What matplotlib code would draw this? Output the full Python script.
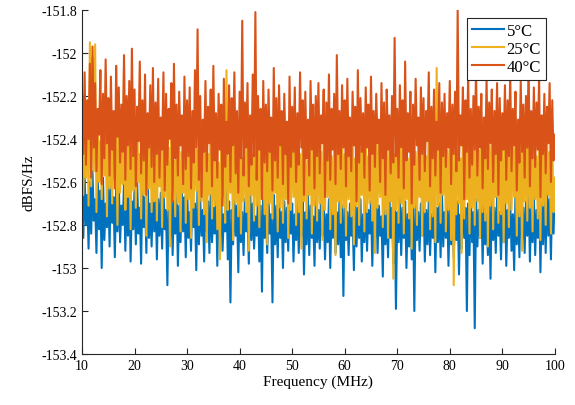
import numpy as np
import matplotlib.pyplot as plt

plt.rcParams['font.family'] = ['Liberation Serif', 'DejaVu Serif']

# frequency grid, 10-100 MHz in 0.25 MHz steps
freq = np.linspace(10, 100, 361)

# 5 degC
psd_5c = [
    -152.62, -152.86, -152.57, -152.80, -152.66, -152.91, -152.60, -152.84, -152.55, -152.78, -152.68, -152.93, -152.59, -152.82, -152.64, -153.00, -152.58, -152.87, -152.70, -152.81,
    -152.61, -152.90, -152.56, -152.79, -152.67, -152.95, -152.63, -152.83, -152.59, -152.88, -152.71, -152.80, -152.60, -152.92, -152.65, -152.85, -152.58, -152.97, -152.69, -152.82,
    -152.63, -152.89, -152.60, -152.84, -152.72, -152.98, -152.62, -152.81, -152.67, -152.93, -152.58, -152.86, -152.70, -152.90, -152.64, -152.83, -152.61, -152.96, -152.68, -152.85,
    -152.65, -152.91, -152.62, -152.82, -152.73, -153.08, -152.66, -152.87, -152.60, -152.94, -152.69, -152.84, -152.63, -152.99, -152.71, -152.88, -152.64, -152.83, -152.67, -152.95,
    -152.62, -152.86, -152.74, -152.92, -152.65, -152.81, -152.70, -153.01, -152.61, -152.89, -152.68, -152.85, -152.73, -152.97, -152.64, -152.83, -152.69, -152.93, -152.66, -152.88,
    -152.72, -152.84, -152.63, -152.99, -152.70, -152.87, -152.67, -152.92, -152.75, -152.83, -152.64, -152.96, -152.69, -153.16, -152.73, -152.89, -152.66, -152.85, -152.71, -153.02,
    -152.65, -152.88, -152.74, -152.94, -152.68, -152.83, -152.72, -152.98, -152.63, -152.87, -152.70, -152.91, -152.76, -152.85, -152.67, -152.97, -152.71, -153.11, -152.64, -152.86,
    -152.73, -152.93, -152.68, -152.84, -152.75, -153.16, -152.66, -152.89, -152.71, -152.95, -152.64, -152.86, -152.74, -153.00, -152.69, -152.88, -152.72, -152.92, -152.66, -152.84,
    -152.70, -152.97, -152.75, -152.87, -152.65, -152.93, -152.72, -152.85, -152.68, -153.03, -152.74, -152.89, -152.66, -152.94, -152.71, -152.86, -152.76, -152.99, -152.67, -152.88,
    -152.73, -152.91, -152.65, -152.85, -152.70, -152.96, -152.75, -152.88, -152.68, -153.00, -152.72, -152.86, -152.66, -152.93, -152.74, -152.89, -152.69, -152.95, -152.71, -153.13,
    -152.67, -152.87, -152.74, -152.94, -152.70, -152.85, -152.76, -153.01, -152.65, -152.90, -152.72, -152.86, -152.68, -152.97, -152.75, -152.88, -152.66, -152.92, -152.73, -152.84,
    -152.69, -152.99, -152.74, -152.87, -152.66, -152.93, -152.71, -152.85, -152.76, -153.04, -152.68, -152.89, -152.73, -152.95, -152.65, -152.86, -152.72, -152.98, -152.70, -153.19,
    -152.74, -152.88, -152.67, -152.94, -152.72, -152.86, -152.69, -153.00, -152.75, -152.90, -152.66, -152.96, -152.71, -153.20, -152.68, -152.87, -152.74, -152.92, -152.70, -152.85,
    -152.66, -152.97, -152.73, -152.89, -152.69, -152.94, -152.75, -152.86, -152.67, -153.02, -152.72, -152.88, -152.70, -152.95, -152.64, -152.90, -152.74, -152.86, -152.68, -152.99,
    -152.71, -152.89, -152.66, -152.95, -152.73, -152.87, -152.69, -153.03, -152.75, -152.91, -152.67, -152.86, -152.72, -153.20, -152.70, -152.94, -152.65, -152.88, -152.74, -153.28,
    -152.68, -152.90, -152.73, -152.86, -152.66, -152.98, -152.71, -152.89, -152.75, -152.94, -152.69, -153.05, -152.64, -152.87, -152.72, -152.93, -152.67, -152.85, -152.74, -152.96,
    -152.70, -152.88, -152.65, -152.99, -152.73, -152.86, -152.68, -152.92, -152.75, -153.01, -152.66, -152.89, -152.71, -152.95, -152.63, -152.87, -152.72, -152.93, -152.69, -152.85,
    -152.64, -152.97, -152.71, -152.88, -152.67, -152.94, -152.73, -152.86, -152.62, -153.02, -152.70, -152.89, -152.66, -152.93, -152.61, -152.85, -152.68, -152.96, -152.63, -152.84,
    -152.60,
]

# 25 degC
psd_25c = [
    -152.30, -152.66, -152.38, -152.58, -152.22, -152.71, -151.95, -152.62, -152.02, -152.55, -151.96, -152.74, -152.27, -152.60, -152.41, -152.68, -152.25, -152.57, -152.36, -152.76,
    -152.31, -152.63, -152.44, -152.70, -152.28, -152.59, -152.39, -152.80, -152.33, -152.65, -152.46, -152.61, -152.08, -152.73, -152.40, -152.67, -152.35, -152.82, -152.29, -152.64,
    -152.42, -152.72, -152.32, -152.60, -152.47, -152.77, -152.37, -152.66, -152.30, -152.85, -152.43, -152.63, -152.35, -152.74, -152.48, -152.69, -152.33, -152.78, -152.40, -152.62,
    -152.45, -152.81, -152.36, -152.67, -152.29, -152.73, -152.44, -152.90, -152.38, -152.64, -152.50, -152.76, -152.34, -152.70, -152.41, -152.83, -152.46, -152.65, -152.32, -152.79,
    -152.43, -152.68, -152.37, -152.86, -152.49, -152.72, -152.35, -152.64, -152.45, -152.80, -152.31, -152.69, -152.42, -152.75, -152.38, -152.88, -152.47, -152.66, -152.34, -152.77,
    -152.44, -152.71, -152.39, -152.82, -152.51, -152.96, -152.36, -152.67, -152.46, -152.79, -152.08, -152.73, -152.48, -152.65, -152.40, -152.87, -152.30, -152.70, -152.45, -152.76,
    -152.37, -152.84, -152.49, -152.69, -152.35, -152.74, -152.43, -152.92, -152.39, -152.66, -152.47, -152.78, -152.32, -152.71, -152.44, -152.81, -152.38, -152.68, -152.50, -152.75,
    -152.41, -152.89, -152.34, -152.70, -152.46, -152.77, -152.36, -152.65, -152.48, -152.83, -152.40, -152.72, -152.31, -152.79, -152.45, -152.68, -152.39, -152.86, -152.49, -152.73,
    -152.35, -152.67, -152.44, -152.80, -152.38, -152.74, -152.47, -152.91, -152.33, -152.69, -152.42, -152.77, -152.50, -152.66, -152.37, -152.84, -152.45, -152.71, -152.40, -152.78,
    -152.32, -152.70, -152.46, -152.87, -152.39, -152.73, -152.43, -152.67, -152.35, -152.82, -152.48, -152.75, -152.41, -152.94, -152.30, -152.69, -152.44, -152.79, -152.37, -152.72,
    -152.47, -152.85, -152.34, -152.68, -152.42, -152.76, -152.38, -152.89, -152.49, -152.71, -152.36, -152.80, -152.45, -152.66, -152.40, -152.83, -152.33, -152.74, -152.48, -152.70,
    -152.39, -152.78, -152.46, -152.93, -152.35, -152.72, -152.43, -152.67, -152.31, -152.81, -152.48, -152.75, -152.38, -152.86, -152.44, -152.69, -152.36, -153.05, -152.47, -152.73,
    -152.41, -152.79, -152.33, -152.70, -152.45, -152.84, -152.37, -152.68, -152.49, -152.77, -152.40, -152.91, -152.34, -152.72, -152.46, -152.80, -152.39, -152.67, -152.43, -152.85,
    -152.36, -152.74, -152.48, -152.69, -152.32, -152.82, -152.44, -152.76, -152.38, -152.88, -152.07, -152.71, -152.35, -152.79, -152.42, -152.66, -152.30, -152.83, -152.45, -152.73,
    -152.40, -152.87, -152.34, -153.08, -152.46, -152.75, -152.38, -152.70, -152.49, -152.93, -152.33, -152.77, -152.44, -152.68, -152.37, -152.84, -152.47, -152.72, -152.41, -152.80,
    -152.35, -152.69, -152.45, -152.86, -152.39, -152.74, -152.48, -152.78, -152.32, -152.90, -152.43, -152.71, -152.36, -152.82, -152.46, -152.67, -152.40, -152.79, -152.34, -152.75,
    -152.44, -152.88, -152.37, -152.70, -152.47, -152.81, -152.33, -152.73, -152.42, -152.67, -152.38, -152.85, -152.46, -152.76, -152.35, -152.92, -152.43, -152.69, -152.39, -152.78,
    -152.31, -152.72, -152.45, -152.83, -152.36, -152.68, -152.48, -152.77, -152.40, -152.87, -152.34, -152.71, -152.44, -152.80, -152.37, -152.66, -152.46, -152.84, -152.41, -152.74,
    -152.58,
]

# 40 degC
psd_40c = [
    -152.18, -152.47, -152.09, -152.52, -152.22, -152.40, -152.05, -152.58, -151.97, -152.44, -152.14, -152.55, -152.26, -152.38, -152.08, -152.61, -152.19, -152.49, -152.03, -152.42,
    -152.21, -152.57, -152.11, -152.45, -152.27, -152.63, -152.06, -152.39, -152.16, -152.51, -152.24, -152.46, -152.01, -152.59, -152.20, -152.43, -152.13, -152.54, -151.98, -152.48,
    -152.17, -152.62, -152.25, -152.41, -152.04, -152.56, -152.22, -152.50, -152.10, -152.66, -152.28, -152.44, -152.15, -152.53, -152.07, -152.60, -152.23, -152.47, -152.12, -152.58,
    -152.30, -152.45, -152.09, -152.64, -152.19, -152.52, -152.26, -152.40, -152.14, -152.69, -152.05, -152.49, -152.24, -152.57, -152.18, -152.43, -152.29, -152.61, -152.11, -152.54,
    -152.22, -152.48, -152.16, -152.63, -152.27, -152.51, -152.08, -152.44, -151.89, -152.59, -152.20, -152.67, -152.31, -152.46, -152.13, -152.55, -152.25, -152.42, -152.17, -152.62,
    -152.06, -152.50, -152.28, -152.58, -152.19, -152.45, -152.24, -152.71, -152.12, -152.53, -152.32, -152.47, -152.15, -152.60, -152.21, -152.43, -152.09, -152.56, -152.27, -152.65,
    -152.18, -152.49, -151.85, -152.57, -152.23, -152.44, -152.14, -152.62, -152.29, -152.52, -152.10, -152.48, -151.81, -152.59, -152.20, -152.45, -152.26, -152.68, -152.13, -152.51,
    -152.24, -152.55, -152.17, -152.46, -152.30, -152.64, -152.07, -152.50, -152.21, -152.58, -152.15, -152.43, -152.27, -152.61, -152.19, -152.47, -152.32, -152.70, -152.11, -152.53,
    -152.25, -152.46, -152.16, -152.60, -152.28, -152.52, -152.09, -152.44, -152.22, -152.66, -152.18, -152.49, -152.31, -152.57, -152.13, -152.45, -152.24, -152.63, -152.20, -152.48,
    -152.14, -152.56, -152.29, -152.42, -152.17, -152.67, -152.23, -152.50, -152.10, -152.59, -152.26, -152.45, -152.19, -152.61, -152.01, -152.47, -152.27, -152.54, -152.15, -152.44,
    -152.22, -152.62, -152.12, -152.48, -152.30, -152.55, -152.18, -152.43, -152.25, -152.69, -152.08, -152.51, -152.21, -152.46, -152.28, -152.58, -152.16, -152.44, -152.24, -152.64,
    -152.11, -152.47, -152.27, -152.53, -152.19, -152.42, -152.31, -152.60, -152.14, -152.49, -152.23, -152.66, -152.17, -152.45, -152.29, -152.56, -152.20, -152.51, -151.93, -152.48,
    -152.26, -152.58, -152.15, -152.44, -152.22, -152.63, -152.04, -152.50, -152.28, -152.46, -152.18, -152.70, -152.24, -152.52, -152.12, -152.43, -152.30, -152.59, -152.16, -152.47,
    -152.21, -152.55, -152.27, -152.41, -152.09, -152.62, -152.25, -152.49, -152.17, -152.57, -152.32, -152.45, -152.14, -152.65, -152.23, -152.48, -152.19, -152.53, -152.28, -152.44,
    -152.13, -152.61, -152.24, -152.47, -152.18, -152.55, -151.80, -152.50, -152.29, -152.43, -152.16, -152.68, -152.22, -152.46, -152.10, -152.58, -152.26, -152.52, -152.20, -152.45,
    -152.07, -152.57, -152.25, -152.44, -152.19, -152.63, -152.30, -152.49, -152.12, -152.54, -152.23, -152.42, -152.17, -152.60, -152.27, -152.47, -152.14, -152.66, -152.21, -152.50,
    -152.28, -152.45, -152.15, -152.59, -152.22, -152.48, -152.09, -152.55, -152.26, -152.43, -152.18, -152.64, -152.31, -152.51, -152.13, -152.46, -152.24, -152.58, -152.20, -152.44,
    -152.05, -152.62, -152.27, -152.49, -152.16, -152.53, -152.23, -152.45, -152.11, -152.67, -152.29, -152.47, -152.19, -152.56, -152.25, -152.42, -152.14, -152.60, -152.22, -152.50,
    -152.38,
]

fig = plt.figure(figsize=(5.75, 4.06), dpi=100)
ax = fig.add_axes([0.1426, 0.1256, 0.8224, 0.8474])

ax.plot(freq, psd_5c, color='#0072BD', lw=1.5, label='5°C')
ax.plot(freq, psd_25c, color='#EDB120', lw=1.5, label='25°C')
ax.plot(freq, psd_40c, color='#D95319', lw=1.5, label='40°C')

yt = np.round(np.arange(-153.4, -151.79, 0.2), 1)
ax.set_xlim(10, 100)
ax.set_ylim(-153.4, -151.8)
ax.set_xticks(np.arange(10, 101, 10))
ax.set_yticks(yt)
ax.set_yticklabels([f'{v:g}' for v in yt])

ax.spines['top'].set_visible(False)
ax.spines['right'].set_visible(False)
for s in ['left', 'bottom']:
    ax.spines[s].set_color('#262626')
    ax.spines[s].set_linewidth(0.8)
ax.tick_params(direction='in', length=4, width=0.8, colors='#262626', labelsize=10, labelcolor='black')

ax.set_xlabel('Frequency (MHz)', fontsize=11, labelpad=2)
ax.set_ylabel('dBFS/Hz', fontsize=11, labelpad=4)

leg = ax.legend(loc='upper right', bbox_to_anchor=(0.981, 0.977), fontsize=12, fancybox=False,
                framealpha=1, edgecolor='#262626', borderpad=0.3, labelspacing=0.12,
                handlelength=1.9, handletextpad=0.15, borderaxespad=0.0)
leg.get_frame().set_linewidth(0.8)

fig.savefig('out.png', dpi=100)
